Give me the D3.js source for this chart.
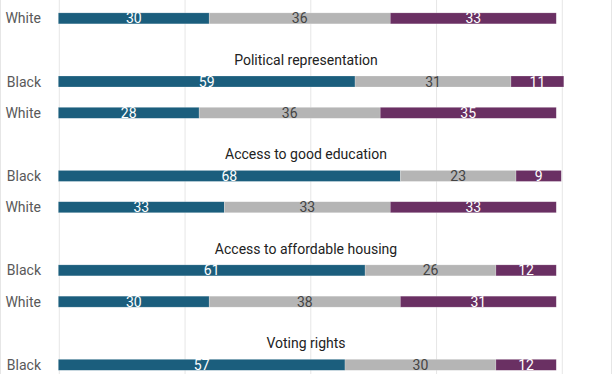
<!DOCTYPE html>
<html>
<head>
<meta charset="utf-8">
<script src="https://cdn.jsdelivr.net/npm/d3@7"></script>
<style>
  body { margin: 0; background: #fff; }
  svg { display: block; font-family: Roboto, sans-serif; }
</style>
</head>
<body>
<svg id="chart"></svg>
<script>
//topic headings, the first topic's heading is cut off above the top of the picture
var topics = ["", "Political representation", "Access to good education", "Access to affordable housing", "Voting rights"];
var races = ["Black", "White"];
//three answer segments per bar, left to right
var segments = ["first", "middle", "last"];
//shares in percent, labels are the rounded values
var blackValues = [null, [59, 31, 10.5], [68, 23, 9], [61, 26, 12], [57, 30, 12]];
var whiteValues = [[30, 36, 33], [28, 36, 35], [33, 33, 33], [30, 38, 31], null];
var gridTicks = [0, 25, 50, 75, 100];

var chart = {width : 612, height : 374, barHeight : 11};

chart.colors = d3.scaleOrdinal()
  .domain(segments)
  .range(["#1b5e7d", "#b5b5b5", "#6a3063"]);

chart.textColors = d3.scaleOrdinal()
  .domain(segments)
  .range(["#ffffff", "#444444", "#ffffff"]);

//build one row object per visible bar
chart.makeRows = function () {
  var rows = [];
  topics.forEach(function (topic, i) {
    [blackValues[i], whiteValues[i]].forEach(function (values, r) {
      if (values === null) {
        return;
      }
      var x0 = 0;
      var parts = values.map(function (v, s) {
        var part = {key : segments[s], value : v, x0 : x0, x1 : x0 + v};
        x0 = x0 + v;
        return part;
      });
      rows.push({group : i, race : races[r], parts : parts});
    });
  });
  return rows;
};

chart.draw = function () {
  var svg = d3.select("#chart")
    .attr("width", chart.width)
    .attr("height", chart.height);

  var x = d3.scaleLinear()
    .domain([0, 100])
    .range([58.3, 561.3]);

  //top of the Black bar in each topic group
  var groupY = d3.scaleLinear()
    .domain([1, 4])
    .range([76, 359.3]);

  //offset of the race bar inside its group
  var raceY = d3.scaleOrdinal()
    .domain(races)
    .range([0, 31.3]);

  var rowTop = function (row) {
    return groupY(row.group) + raceY(row.race);
  };

  //frame lines at the left and right edges
  svg.selectAll(".frame")
    .data([0.5, chart.width - 0.5])
    .enter().append("line")
    .attr("class", "frame")
    .attr("x1", function (d) { return d; })
    .attr("x2", function (d) { return d; })
    .attr("y1", 0)
    .attr("y2", chart.height)
    .style("stroke", "#e6e6e6");

  //vertical gridlines from an axis with full length ticks
  var grid = svg.append("g")
    .attr("transform", "translate(0," + chart.height + ")")
    .call(d3.axisBottom(x).tickValues(gridTicks).tickSize(-chart.height).tickFormat(""));
  grid.select(".domain").remove();
  grid.selectAll("line")
    .style("stroke", "#e6e6e6")
    .attr("transform", "translate(0.5,0)");

  //topic headings
  svg.selectAll(".topic")
    .data(topics.filter(function (t) { return t !== ""; }))
    .enter().append("text")
    .attr("class", "topic")
    .attr("x", chart.width / 2)
    .attr("y", function (d) { return groupY(topics.indexOf(d)) - 11; })
    .attr("text-anchor", "middle")
    .style("font-size", "14px")
    .style("fill", "#222")
    .text(function (d) { return d; });

  var rows = svg.selectAll(".row")
    .data(chart.makeRows())
    .enter().append("g")
    .attr("class", "row")
    .attr("transform", function (d) { return "translate(0," + rowTop(d) + ")"; });

  //race label to the left of the bar
  rows.append("text")
    .attr("x", 41)
    .attr("y", chart.barHeight / 2 + 5)
    .attr("text-anchor", "end")
    .style("font-size", "14px")
    .style("fill", "#595959")
    .text(function (d) { return d.race; });

  var parts = rows.selectAll(".part")
    .data(function (d) { return d.parts; })
    .enter();

  parts.append("rect")
    .attr("x", function (d) { return x(d.x0); })
    .attr("width", function (d) { return x(d.x1) - x(d.x0); })
    .attr("y", 0)
    .attr("height", chart.barHeight)
    .style("fill", function (d) { return chart.colors(d.key); })
    .style("stroke", "rgba(255,255,255,0.35)")
    .style("stroke-width", 0.6);

  parts.append("text")
    .attr("x", function (d) { return x((d.x0 + d.x1) / 2); })
    .attr("y", chart.barHeight / 2 + 5)
    .attr("text-anchor", "middle")
    .style("font-size", "14px")
    .style("fill", function (d) { return chart.textColors(d.key); })
    .text(function (d) { return Math.round(d.value); });
};

chart.draw();
</script>
</body>
</html>
